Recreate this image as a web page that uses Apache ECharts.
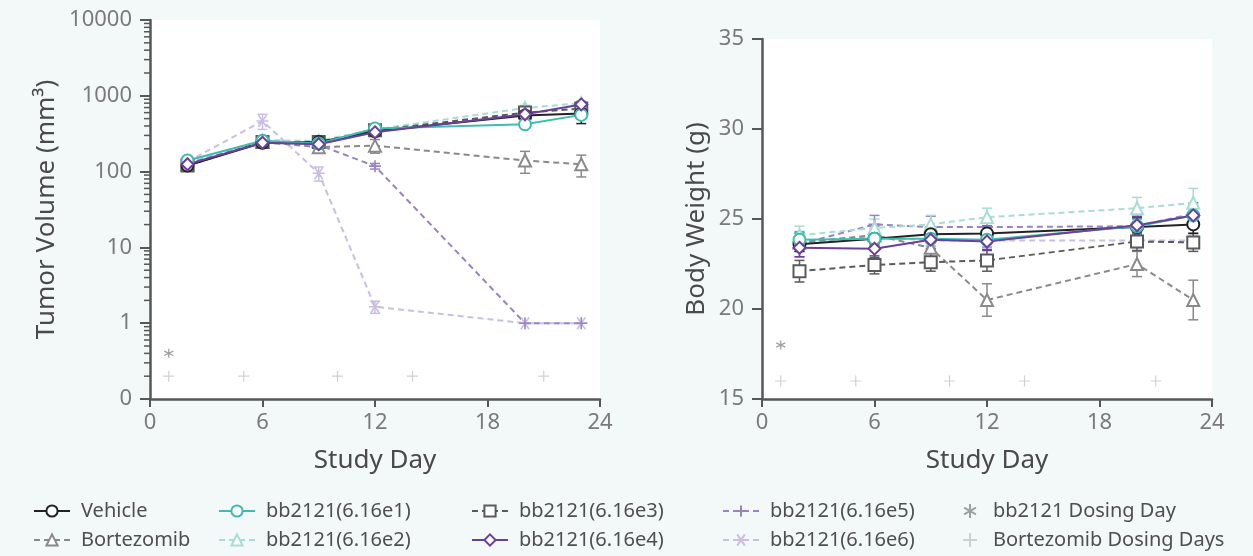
<!DOCTYPE html>
<html>
<head>
<meta charset="utf-8">
<script src="https://cdn.jsdelivr.net/npm/echarts@6/dist/echarts.min.js"></script>
<style>
  html, body { margin: 0; padding: 0; background: #f3f8f8; }
  #main { width: 1253px; height: 556px; }
</style>
</head>
<body>
<div id="main"></div>
<script>
// study days
const days = [2, 6, 9, 12, 20, 23]
const groupNames = ['Vehicle', 'Bortezomib', 'bb2121(6.16e1)', 'bb2121(6.16e2)', 'bb2121(6.16e3)', 'bb2121(6.16e4)', 'bb2121(6.16e5)', 'bb2121(6.16e6)']

// tumor volume (mm3), mean and sem
const vehicleTV = [120, 240, 245, 340, 550, 585]
const bortezomibTV = [125, 245, 210, 220, 140, 125]
const e1TV = [140, 255, 235, 370, 420, 560]
const e2TV = [135, 260, 255, 360, 690, 800]
const e3TV = [120, 245, 245, 350, 600, 680]
const e4TV = [125, 240, 230, 330, 570, 770]
const e5TV = [130, 245, 225, 118, 1, 1]
const e6TV = [135, 465, 95, 1.65, 1, 1]
const vehicleTVErr = [10, 20, 25, 30, 50, 155]
const bortezomibTVErr = [10, 20, 20, 45, 45, 40]
const e1TVErr = [15, 20, 20, 30, 40, 60]
const e2TVErr = [15, 20, 25, 30, 60, 60]
const e3TVErr = [10, 20, 20, 30, 50, 60]
const e4TVErr = [10, 20, 20, 30, 50, 60]
const e5TVErr = [10, 20, 20, 10, 0, 0]
const e6TVErr = [15, 105, 20, 0.3, 0, 0]

// body weight (g), mean and sem
const vehicleBW = [23.6, 23.9, 24.15, 24.2, 24.55, 24.7]
const bortezomibBW = [23.7, 24.1, 23.4, 20.5, 22.5, 20.5]
const e1BW = [23.85, 23.9, 23.9, 23.85, 24.6, 25.2]
const e2BW = [24.1, 24.5, 24.7, 25.1, 25.6, 25.9]
const e3BW = [22.1, 22.45, 22.6, 22.7, 23.75, 23.7]
const e4BW = [23.4, 23.35, 23.85, 23.75, 24.65, 25.2]
const e5BW = [23.6, 24.7, 24.55, 24.55, 24.6, 25.3]
const e6BW = [23.7, 24.0, 23.8, 23.8, 23.8, 23.8]
const vehicleBWErr = [0.4, 0.4, 0.4, 0.4, 0.5, 0.5]
const bortezomibBWErr = [0.5, 0.5, 0.6, 0.9, 0.7, 1.1]
const e1BWErr = [0.4, 0.4, 0.4, 0.4, 0.4, 0.5]
const e2BWErr = [0.5, 0.5, 0.5, 0.5, 0.6, 0.8]
const e3BWErr = [0.6, 0.5, 0.5, 0.6, 0.5, 0.5]
const e4BWErr = [0.5, 0.5, 0.5, 0.5, 0.5, 0.7]
const e5BWErr = [0.7, 0.5, 0.6, 0.5, 0.5, 0.5]
const e6BWErr = [0.5, 0.4, 0.4, 0.4, 0.4, 0.4]

// dosing days
const bb2121DosingDays = [1]
const bortezomibDosingDays = [1, 5, 10, 14, 21]
const dosingTV = [0.4, 0.2]
const dosingBW = [18, 16]

const tvMeans = [vehicleTV, bortezomibTV, e1TV, e2TV, e3TV, e4TV, e5TV, e6TV]
const tvErrs = [vehicleTVErr, bortezomibTVErr, e1TVErr, e2TVErr, e3TVErr, e4TVErr, e5TVErr, e6TVErr]
const bwMeans = [vehicleBW, bortezomibBW, e1BW, e2BW, e3BW, e4BW, e5BW, e6BW]
const bwErrs = [vehicleBWErr, bortezomibBWErr, e1BWErr, e2BWErr, e3BWErr, e4BWErr, e5BWErr, e6BWErr]

const plusPath = 'path://M5,0L5,10M0,5L10,5'
const crossPath = 'path://M0,5L10,5M1.6,0.8L8.4,9.2M1.6,9.2L8.4,0.8'
const starPath = 'path://M5,0L5,10M0.8,2.6L9.2,7.4M0.8,7.4L9.2,2.6'

const styles = [
  { color: '#222222', symbol: 'emptyCircle', dash: 'solid' },
  { color: '#8a8a8a', symbol: 'emptyTriangle', dash: [6, 4] },
  { color: '#3dbdaf', symbol: 'emptyCircle', dash: 'solid' },
  { color: '#a8ddd6', symbol: 'emptyTriangle', dash: [6, 4] },
  { color: '#5a5a5a', symbol: 'emptyRect', dash: [6, 4] },
  { color: '#6b3f9c', symbol: 'emptyDiamond', dash: 'solid' },
  { color: '#9a82c8', symbol: plusPath, dash: [6, 4] },
  { color: '#cbbee5', symbol: crossPath, dash: [6, 4] }
]
const drawOrder = [7, 6, 1, 3, 4, 0, 2, 5]

const font = 'Noto Sans'
const axisColor = '#575757'
const labelColor = '#7a7a7a'

function errorBars(means, errs, idx, gi, floor) {
  const c = styles[gi].color
  return {
    type: 'custom',
    xAxisIndex: idx,
    yAxisIndex: idx,
    z: 1,
    silent: true,
    data: days.map((d, i) => [d, Math.max(means[i] - errs[i], floor), means[i] + errs[i], errs[i]]),
    renderItem(params, api) {
      if (api.value(3) <= 0) return
      const lo = api.coord([api.value(0), api.value(1)])
      const hi = api.coord([api.value(0), api.value(2)])
      const st = { stroke: c, lineWidth: 1.5 }
      return {
        type: 'group',
        children: [
          { type: 'line', shape: { x1: lo[0], y1: lo[1], x2: hi[0], y2: hi[1] }, style: st },
          { type: 'line', shape: { x1: lo[0] - 5, y1: lo[1], x2: lo[0] + 5, y2: lo[1] }, style: st },
          { type: 'line', shape: { x1: hi[0] - 5, y1: hi[1], x2: hi[0] + 5, y2: hi[1] }, style: st }
        ]
      }
    }
  }
}

function lineSeries(means, idx, gi) {
  const s = styles[gi]
  return {
    name: groupNames[gi],
    type: 'line',
    xAxisIndex: idx,
    yAxisIndex: idx,
    z: 3,
    data: days.map((d, i) => [d, means[i]]),
    symbol: s.symbol,
    symbolSize: 12,
    lineStyle: { color: s.color, width: 2, type: s.dash },
    itemStyle: { color: s.color, borderColor: s.color, borderWidth: 1.6 }
  }
}

function dosingSeries(idx, vals) {
  return [{
    name: 'bb2121 Dosing Day',
    type: 'scatter',
    xAxisIndex: idx,
    yAxisIndex: idx,
    symbol: starPath,
    symbolSize: 9,
    data: bb2121DosingDays.map(d => [d, vals[0]]),
    itemStyle: { color: '#8a8a8a', borderColor: '#8a8a8a', borderWidth: 1.3 }
  }, {
    name: 'Bortezomib Dosing Days',
    type: 'scatter',
    xAxisIndex: idx,
    yAxisIndex: idx,
    symbol: plusPath,
    symbolSize: 11,
    data: bortezomibDosingDays.map(d => [d, vals[1]]),
    itemStyle: { color: '#c4c4c4', borderColor: '#c4c4c4', borderWidth: 1.2 }
  }]
}

// log-scale minor ticks, drawn outside the left axis
const minorValues = []
for (let k = -1; k <= 3; k++) {
  for (let m = 2; m <= 9; m++) minorValues.push(m * Math.pow(10, k))
}

const series = []
drawOrder.forEach(gi => {
  series.push(errorBars(tvMeans[gi], tvErrs[gi], 0, gi, 0.1))
  series.push(lineSeries(tvMeans[gi], 0, gi))
  series.push(errorBars(bwMeans[gi], bwErrs[gi], 1, gi, 15))
  series.push(lineSeries(bwMeans[gi], 1, gi))
})
series.push(...dosingSeries(0, dosingTV), ...dosingSeries(1, dosingBW))
series.push({
  type: 'custom',
  xAxisIndex: 0,
  yAxisIndex: 0,
  silent: true,
  clip: false,
  data: minorValues.map(v => [0, v]),
  renderItem(params, api) {
    const p = api.coord([0, api.value(1)])
    return {
      type: 'line',
      shape: { x1: p[0] - 6, y1: p[1], x2: p[0], y2: p[1] },
      style: { stroke: axisColor, lineWidth: 1.5 }
    }
  }
})

function xAxis(idx) {
  return {
    type: 'value',
    gridIndex: idx,
    min: 0, max: 24, interval: 6,
    name: 'Study Day',
    nameLocation: 'middle',
    nameGap: 49,
    nameTextStyle: { fontFamily: font, fontSize: 26, color: '#4a4a4a' },
    axisLine: { lineStyle: { color: axisColor, width: 2.5 } },
    axisTick: { length: 8, lineStyle: { color: axisColor, width: 2 } },
    axisLabel: { fontFamily: font, fontSize: 22, color: labelColor, margin: 13 },
    splitLine: { show: false }
  }
}

const legendText = { fontFamily: font, fontSize: 20, color: '#4f4f4f', padding: [0, 0, 0, 6] }
function legend(left, data) {
  return {
    orient: 'vertical',
    left: left,
    top: 501,
    height: 60,
    padding: 0,
    itemWidth: 36,
    itemHeight: 14,
    itemGap: 9,
    textStyle: legendText,
    data: data
  }
}

const chart = echarts.init(document.getElementById('main'))
chart.setOption({
  backgroundColor: '#f3f8f8',
  animation: false,
  grid: [
    { left: 150, top: 20, width: 450, height: 379, show: true, backgroundColor: '#ffffff', borderWidth: 0 },
    { left: 762, top: 39, width: 450, height: 360, show: true, backgroundColor: '#ffffff', borderWidth: 0 }
  ],
  xAxis: [xAxis(0), xAxis(1)],
  yAxis: [{
    type: 'log',
    gridIndex: 0,
    logBase: 10,
    min: 0.1, max: 10000,
    name: 'Tumor Volume (mm³)',
    nameLocation: 'middle',
    nameGap: 90,
    nameTextStyle: { fontFamily: font, fontSize: 26, color: '#4a4a4a' },
    axisLine: { lineStyle: { color: axisColor, width: 2.5 } },
    axisTick: { length: 10, lineStyle: { color: axisColor, width: 2 } },
    axisLabel: {
      fontFamily: font, fontSize: 22, color: labelColor, margin: 18,
      formatter: v => (v < 0.5 ? '0' : String(Math.round(v)))
    },
    splitLine: { show: false }
  }, {
    type: 'value',
    gridIndex: 1,
    min: 15, max: 35, interval: 5,
    name: 'Body Weight (g)',
    nameLocation: 'middle',
    nameGap: 52,
    nameTextStyle: { fontFamily: font, fontSize: 26, color: '#4a4a4a' },
    axisLine: { lineStyle: { color: axisColor, width: 2.5 } },
    axisTick: { length: 10, lineStyle: { color: axisColor, width: 2 } },
    axisLabel: { fontFamily: font, fontSize: 22, color: labelColor, margin: 18 },
    splitLine: { show: false }
  }],
  legend: [
    legend(33, ['Vehicle', 'Bortezomib']),
    legend(218, ['bb2121(6.16e1)', 'bb2121(6.16e2)']),
    legend(471, ['bb2121(6.16e3)', 'bb2121(6.16e4)']),
    legend(722, ['bb2121(6.16e5)', 'bb2121(6.16e6)']),
    Object.assign(legend(962, ['bb2121 Dosing Day', 'Bortezomib Dosing Days']), { itemWidth: 24 })
  ],
  series: series
})
</script>
</body>
</html>
